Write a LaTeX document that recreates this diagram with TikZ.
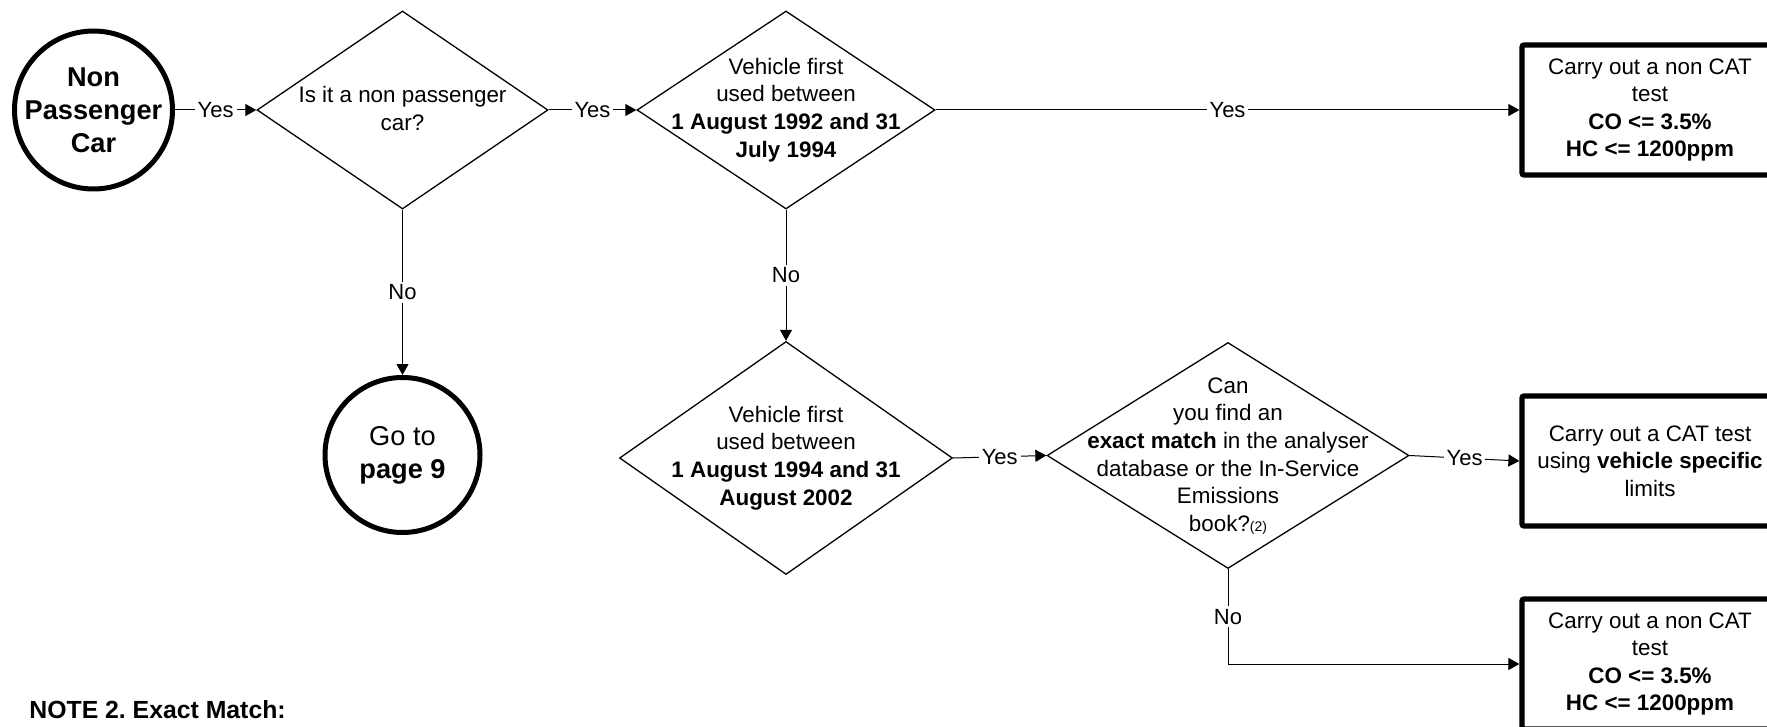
\documentclass[tikz,border=0pt]{standalone}
\usepackage{fontspec}
\setmainfont{Liberation Sans}
\usetikzlibrary{shapes.geometric,arrows.meta}
\frenchspacing
\def\pxu{0.5pt}
\tikzset{
  dia/.style={draw, diamond, line width=0.65pt, inner sep=0pt, aspect=1},
  txt/.style={align=center, inner sep=0pt, font=\fontsize{11.2}{13.8}\selectfont},
  bigtxt/.style={align=center, inner sep=0pt, font=\fontsize{13.6}{16.4}\selectfont},
  term/.style={draw, circle, line width=2.5pt, inner sep=0pt},
  resbox/.style={draw, rectangle, line width=2.6pt, rounded corners=1pt,
    minimum width=256*\pxu, minimum height=130*\pxu, align=center, inner sep=0pt,
    font=\fontsize{11.2}{13.8}\selectfont},
  conn/.style={line width=0.5pt, -{Triangle[length=5.5pt,width=6pt]}},
  lbl/.style={fill=white, inner sep=1.5pt, font=\fontsize{11}{13}\selectfont},
}
\begin{document}
\begin{tikzpicture}[x=0.5pt,y=-0.5pt]
\useasboundingbox (0,0) rectangle (1767,727);
% terminals
\node[term, minimum size=158*\pxu] (start) at (93.5,110) {};
\node[bigtxt, font=\fontsize{13.6}{16.4}\selectfont\bfseries] (startt) at (start) {Non\\Passenger\\Car};
\node[term, minimum size=155*\pxu] (goto) at (402.5,455) {};
\node[bigtxt] (gotot) at (goto) {Go to\\\textbf{page 9}};
% decisions
\node[dia, minimum width=291*\pxu, minimum height=198*\pxu] (d1) at (402.5,110) {};
\node[txt] (d1t) at (402.5,108.5) {Is it a non passenger\\car?};
\node[dia, minimum width=298*\pxu, minimum height=198*\pxu] (d2) at (786,110) {};
\node[txt] (d2t) at (786,110) {Vehicle first\\used between\\\textbf{1 August 1992 and 31}\\\textbf{July 1994}};
\node[dia, minimum width=333*\pxu, minimum height=233*\pxu] (d3) at (786,458) {};
\node[txt] (d3t) at (786,458) {Vehicle first\\used between\\\textbf{1 August 1994 and 31}\\\textbf{August 2002}};
\node[dia, minimum width=362*\pxu, minimum height=226*\pxu] (d4) at (1228,455.5) {};
\node[txt] (d4t) at (1228,456) {Can\\you find an\\\textbf{exact match} in the analyser\\database or the In-Service\\Emissions\\book?{\fontsize{7}{8}\selectfont(2)}};
% results
\node[resbox] (box1) at (1650,110) {Carry out a non CAT\\test\\\textbf{CO <= 3.5\%}\\\textbf{HC <= 1200ppm}};
\node[resbox] (box2) at (1650,461) {Carry out a CAT test\\using \textbf{vehicle specific}\\limits};
\node[resbox] (box3) at (1650,664) {Carry out a non CAT\\test\\\textbf{CO <= 3.5\%}\\\textbf{HC <= 1200ppm}};
% connectors
\draw[conn] (start.east) -- node[lbl]{Yes} (d1.west);
\draw[conn] (d1.east) -- node[lbl]{Yes} (d2.west);
\draw[conn] (d2.east) -- node[lbl]{Yes} (box1.west);
\draw[conn] (d1.south) -- node[lbl]{No} (goto.north);
\draw[conn] (d2.south) -- node[lbl]{No} (d3.north);
\draw[conn] (d3.east) -- node[lbl]{Yes} (d4.west);
\draw[conn] (d4.east) -- node[lbl]{Yes} (box2.west);
\draw[conn] (d4.south) |- node[lbl, pos=0.25]{No} (box3.west);
% note
\node[font=\fontsize{12.4}{15}\selectfont\bfseries, anchor=base west, inner sep=0pt] (note) at (29,718) {NOTE 2. Exact Match:};
\end{tikzpicture}
\end{document}
